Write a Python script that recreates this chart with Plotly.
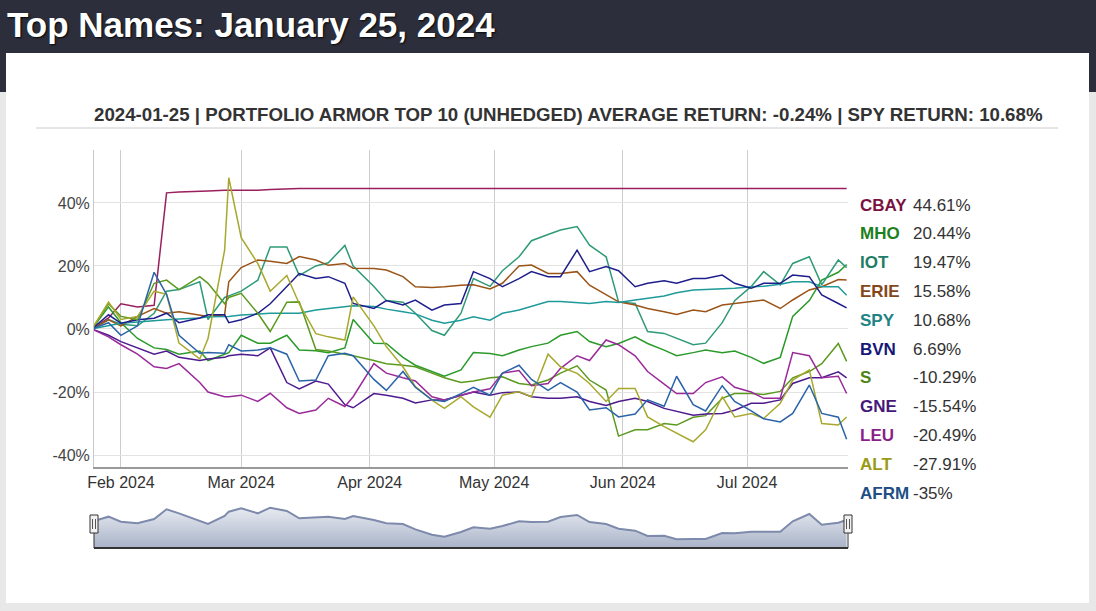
import plotly.graph_objects as go

# ---------------- data ----------------
dates = ["2024-01-25","2024-01-29","2024-02-01","2024-02-05","2024-02-09","2024-02-12","2024-02-15",
         "2024-02-20","2024-02-22","2024-02-26","2024-02-27","2024-03-01","2024-03-05","2024-03-08",
         "2024-03-12","2024-03-15","2024-03-19","2024-03-22","2024-03-26","2024-03-28","2024-04-02",
         "2024-04-05","2024-04-09","2024-04-12","2024-04-16","2024-04-19","2024-04-23","2024-04-26",
         "2024-04-30","2024-05-03","2024-05-07","2024-05-10","2024-05-14","2024-05-17","2024-05-21",
         "2024-05-24","2024-05-28","2024-05-31","2024-06-04","2024-06-07","2024-06-11","2024-06-14",
         "2024-06-18","2024-06-21","2024-06-25","2024-06-28","2024-07-02","2024-07-05","2024-07-09",
         "2024-07-12","2024-07-16","2024-07-19","2024-07-23","2024-07-25"]

tickers = ["CBAY", "MHO", "IOT", "ERIE", "SPY", "BVN", "S", "GNE", "LEU", "ALT", "AFRM"]

cbay = [0, 3.5, 8.0, 7.0, 7.5, 43.2, 43.5, 43.6, 43.8, 44.0, 44.0, 43.8, 44.0, 44.3, 44.5] + [44.61] * 39
mho = [0, 7, 2, -3, -6, -6.5, -8, -7, -10, -8, -7.5, -2, -4.5, -4.5, -2, -6.7, -6.9, -7.5, -6, 3,
       -4.5, -4.6, -9, -11.5, -13.5, -15, -13, -7.5, -7.8, -8.5, -6.7, -5.6, -4.5, -2, -0.8, -4,
       -5.6, -4.6, -2.5, -4.6, -6.7, -8.5, -7.5, -6.7, -7.5, -7, -9, -10.9, -9, 4, 9, 15.5, 18, 20.44]
iot = [0, 3, 1.5, 1, 5, 12, 12.5, 15, 3, 10, 10.5, 12, 15.5, 26, 26, 17, 20, 21, 26.5, 20,
       13.5, 9, 8.5, 5, -0.5, -2, 5, 16, 13.5, 18.5, 22.9, 28, 30, 31.4, 32.5, 26.6, 22.9, 8.6,
       8.1, -0.8, -1.4, -3, -5, -4.5, 2, 9, 13.5, 18.2, 14, 20.8, 22.9, 14, 21.9, 19.47]
erie = [0, 2.9, 1, 4, 6.5, 5, 5.5, 4.5, 4, 4.5, 15, 19.5, 21.9, 21.5, 20.8, 23, 21.9, 20.2, 20.8, 19.3,
        19.2, 18.7, 16.6, 13.4, 13.2, 13.4, 13.9, 14, 12.7, 14.5, 20, 20.3, 17.6, 17.6, 18.2, 13.9,
        10.8, 8.6, 7.6, 6.5, 5.5, 4.6, 6, 5.5, 7.6, 8.1, 8.6, 9.2, 6.5, 9.2, 12.4, 13.4, 15.7, 15.58]
spy = [0, 1, 1.8, 2.2, 2.5, 2.9, 3.2, 3.5, 3.9, 3.9, 4, 4.4, 4.8, 5, 5, 5, 6, 6.5, 7.1, 7.4,
       7.1, 6.3, 5.5, 4.8, 2.8, 1.8, 2.8, 3.9, 2.8, 5, 6, 7.1, 8.7, 8.7, 8.3, 8.1, 8.7, 8.4,
       9.2, 9.7, 10.5, 11.5, 12.4, 12.5, 12.7, 12.9, 13.4, 13.6, 14.2, 15, 15, 13.4, 13.4, 10.68]
bvn = [0, 4.5, 1.8, 2.9, 3.4, 5, 2, 3.5, 4.5, 4.5, 2, 2.9, 5, 8, 13.5, 17.6, 16, 16.6, 14.5, 8.1,
       6.5, 9, 7.6, 9.2, 6, 7.6, 8.1, 18.2, 16, 13.4, 16, 18.2, 16.6, 16.6, 25, 18.2, 19.8, 18.5,
       13.4, 14.5, 15.3, 14.5, 16, 16, 17.1, 14.5, 12.9, 14.5, 14.5, 17.1, 16.6, 10.8, 8.1, 6.69]
s_ = [0, 8, 4, 3, 14.5, 15.5, 12.5, 16.6, 14.5, 8, 10, 11.3, 5, -0.8, 8.5, 8.6, -6.5, -7, -8, -8.5,
      -10, -11, -11.5, -12, -14, -15.5, -17, -16.5, -15.5, -15.2, -17.3, -17.8, -16.2, -14, -11.7,
      -16.2, -19.4, -34, -32, -32, -30, -30.5, -28, -27.5, -22, -20.5, -20.5, -20.8, -19.8, -15.5,
      -13.5, -11, -4.6, -10.29]
gne = [0, -2, -4, -6, -8, -7, -9, -10, -9.5, -9, -8.5, -8, -8.5, -6, -17, -19, -16.5, -17.5, -24, -25,
       -20.5, -21, -22, -23.5, -22.5, -22.5, -21, -20, -21, -20.2, -20, -21.5, -22, -22, -21.5, -23,
       -24.3, -23, -22, -23, -25.2, -26.2, -27.4, -27, -26.8, -25.8, -23.6, -23.6, -22.5, -17.3,
       -15.5, -15.5, -13.6, -15.54]
leu = [0, -2.5, -5, -8, -12, -12.5, -11, -17, -20, -21.5, -21.5, -21, -23, -20.4, -25, -26.8, -25.7,
       -22, -24.6, -21.5, -11, -14, -15.5, -16.5, -21.5, -22.5, -21, -20, -19, -14, -13.2, -18, -17.3,
       -12.5, -8.5, -10, -3.5, -5, -8.5, -13.5, -17.5, -20.5, -20.5, -17, -15.2, -18.5, -20, -22, -22,
       -7.5, -8.5, -15.5, -15, -20.49]
alt = [0, 8.5, 3, 4, 12, 11, -4.5, -9.5, -3, 25, 48, 29, 20.8, 12, 17, 8, -1.5, -2.5, -3.5, 10.2,
       1, -5.6, -12, -18.3, -22.6, -25.2, -21.5, -24.7, -28, -21, -19.9, -21.5, -8, -12, -14.1, -17.3,
       -23, -18.9, -18.9, -27.9, -31, -33, -35.8, -32, -21.5, -27.9, -26.8, -28.4, -23.6, -16.2, -13,
       -30, -30.5, -27.91]
afrm = [0, 2, -2, 1, 18, 11, -2, -7.7, -7.5, -7.7, -5, -7, -6.7, -6, -8, -16.5, -16.2, -8.5, -7.7, -8.5,
        -16, -19.5, -13.5, -18.5, -22.5, -23, -20.5, -18.5, -21, -14, -11.5, -16, -19.5, -17, -20, -25.7,
        -25, -27.9, -27, -22.5, -24.5, -15, -24, -26, -18, -23, -26, -28.5, -29.5, -26.8, -17.8, -26.8,
        -28, -35]

series = [cbay, mho, iot, erie, spy, bvn, s_, gne, leu, alt, afrm]

# navigator series (index level)
nav = [101.0, 104.0, 101.0, 100.0, 102.6, 108.4, 106.0, 101.6, 99.6, 104.4, 107.0, 109.0, 106.0, 109.4,
       107.4, 103.0, 103.4, 104.0, 102.6, 104.4, 102.0, 100.0, 99.6, 96.4, 93.2, 92.0, 94.8, 97.6,
       96.8, 98.4, 101.2, 100.8, 101.0, 103.8, 105.0, 100.8, 99.6, 96.8, 95.6, 92.4, 92.6, 90.4,
       90.6, 90.6, 94.2, 94.0, 95.0, 95.0, 95.0, 101.2, 105.6, 99.2, 100.4, 102.0]

y_ticks = [-40, -20, 0, 20, 40]
y_tick_labels = ["-40%", "-20%", "0%", "20%", "40%"]
header_text = "Top Names: January 25, 2024"
chart_title = ("2024-01-25 | PORTFOLIO ARMOR TOP 10 (UNHEDGED) AVERAGE RETURN: -0.24% | "
               "SPY RETURN: 10.68%")

# ---------------- styles ----------------
line_colors = ["#9a1f5e", "#2a9a2a", "#2f9a78", "#9a5418", "#1f9a9a", "#1e1e8c",
               "#5b9a1e", "#4e1a8e", "#9a2a9a", "#a8a82e", "#2a64a8"]
text_colors = ["#7b1141", "#1e7f1e", "#1e7d66", "#85461a", "#1d8383", "#171777",
               "#4b8516", "#46187a", "#8a1f8a", "#9a9a14", "#1f4f85"]

W, H = 1096, 611
FONT = "Liberation Sans, Arial, Helvetica, sans-serif"


def px(x, y):
    return x / W, 1 - y / H


fig = go.Figure()

for name, vals, col in zip(tickers, series, line_colors):
    fig.add_trace(go.Scatter(x=dates, y=vals, mode="lines", name=name,
                             line=dict(color=col, width=1.5), xaxis="x", yaxis="y",
                             showlegend=False))

fig.add_trace(go.Scatter(x=dates, y=nav, mode="lines", xaxis="x2", yaxis="y2",
                         line=dict(color="#7d8aab", width=2), fill="tozeroy",
                         fillgradient=dict(type="vertical", start=85.2, stop=110,
                                           colorscale=[[0, "#a9b3c8"], [1, "#e9ecf2"]]),
                         showlegend=False))

x_range = ["2024-01-25 12:00", "2024-07-25 08:00"]
xd = [94 / W, 848 / W]

shapes = []
# background: header band, white card
shapes.append(dict(type="rect", xref="paper", yref="paper", x0=0, x1=1, y0=px(0, 92)[1], y1=1,
                   fillcolor="#2c2f3b", line_width=0, layer="below"))
cx0, cy0 = px(6, 603)
cx1, cy1 = px(1089, 53)
shapes.append(dict(type="rect", xref="paper", yref="paper", x0=cx0, x1=cx1, y0=cy0, y1=cy1,
                   fillcolor="#ffffff", line_width=0, layer="below"))
# title underline
a0, b0 = px(36, 128)
a1, _ = px(1058, 128)
shapes.append(dict(type="line", xref="paper", yref="paper", x0=a0, x1=a1, y0=b0, y1=b0,
                   line=dict(color="#cccccc", width=1)))
# navigator outline
n0x, n0y = px(94, 548)
n1x, _ = px(848, 548)
_, nty = px(0, 532)
shapes.append(dict(type="line", xref="paper", yref="paper", x0=n0x, x1=n1x, y0=n0y, y1=n0y,
                   line=dict(color="#333333", width=2)))
for hx in (94, 848):
    hxp = hx / W
    shapes.append(dict(type="line", xref="paper", yref="paper", x0=hxp, x1=hxp, y0=n0y, y1=nty,
                       line=dict(color="#333333", width=1)))
    rx0, ry0 = px(hx - 4, 533)
    rx1, ry1 = px(hx + 4, 515)
    shapes.append(dict(type="rect", xref="paper", yref="paper", x0=rx0, x1=rx1, y0=ry0, y1=ry1,
                       fillcolor="#f2f2f2", line=dict(color="#333333", width=1)))
    for off in (-1.5, 1.5):
        lx, ly0 = px(hx + off, 529)
        _, ly1 = px(0, 519)
        shapes.append(dict(type="line", xref="paper", yref="paper", x0=lx, x1=lx, y0=ly0, y1=ly1,
                           line=dict(color="#555555", width=1)))

annotations = []
hx_, hy_ = px(5, 25)
annotations.append(dict(text="<b>" + header_text + "</b>", xref="paper", yref="paper", x=hx_, y=hy_,
                        xanchor="left", yanchor="middle", showarrow=False,
                        font=dict(family=FONT, size=35, color="#ffffff",
                                  shadow="1px 1px 2px rgba(0,0,0,0.9)")))
tx_, ty_ = px(568, 114.5)
annotations.append(dict(text="<b>" + chart_title + "</b>", xref="paper", yref="paper", x=tx_, y=ty_,
                        xanchor="center", yanchor="middle", showarrow=False,
                        font=dict(family=FONT, size=18.7, color="#333333")))
for i, (name, vals, col) in enumerate(zip(tickers, series, text_colors)):
    yy = 205 + i * 28.8
    lx, ly = px(858, yy)
    vx, _ = px(911, yy)
    annotations.append(dict(text="<b>" + name + "</b>", xref="paper", yref="paper", x=lx, y=ly,
                            xanchor="left", yanchor="middle", showarrow=False,
                            font=dict(family=FONT, size=17, color=col)))
    annotations.append(dict(text=f"{vals[-1]:g}%", xref="paper", yref="paper", x=vx, y=ly,
                            xanchor="left", yanchor="middle", showarrow=False,
                            font=dict(family=FONT, size=17, color="#333333")))

fig.update_layout(
    width=W, height=H, autosize=False,
    margin=dict(l=0, r=0, t=0, b=0, pad=0, autoexpand=False),
    paper_bgcolor="#e8e8e8", plot_bgcolor="rgba(0,0,0,0)",
    font=dict(family=FONT),
    hovermode=False,
    shapes=shapes, annotations=annotations,
    xaxis=dict(domain=xd, anchor="y", type="date", range=x_range, automargin=False,
               dtick="M1", tick0="2024-02-01", tickformat="%b %Y",
               showgrid=True, gridcolor="#cccccc", gridwidth=1,
               showline=True, linecolor="#999999", linewidth=1.5,
               ticks="", tickfont=dict(size=16, color="#333333"), zeroline=False),
    yaxis=dict(domain=[px(0, 467)[1], px(0, 150)[1]], anchor="x", range=[-43.8, 56.8],
               automargin=False, tickmode="array", tickvals=y_ticks, ticktext=y_tick_labels,
               showgrid=True, gridcolor="#e3e3e3",
               gridwidth=1, zeroline=False, showline=True, linecolor="#c8c8c8", linewidth=1,
               ticks="", tickfont=dict(size=16, color="#444444")),
    xaxis2=dict(domain=xd, anchor="y2", type="date", range=x_range, visible=False, automargin=False),
    yaxis2=dict(domain=[px(0, 548)[1], px(0, 503)[1]], anchor="x2", range=[85.2, 112.2],
                visible=False, automargin=False),
)

fig.write_html("out.html", config={"displayModeBar": False})

with open("out.html", "r", encoding="utf-8") as f:
    html = f.read()
html = html.replace("<body>", '<body style="margin:0;padding:0;overflow:hidden;">', 1)
with open("out.html", "w", encoding="utf-8") as f:
    f.write(html)
